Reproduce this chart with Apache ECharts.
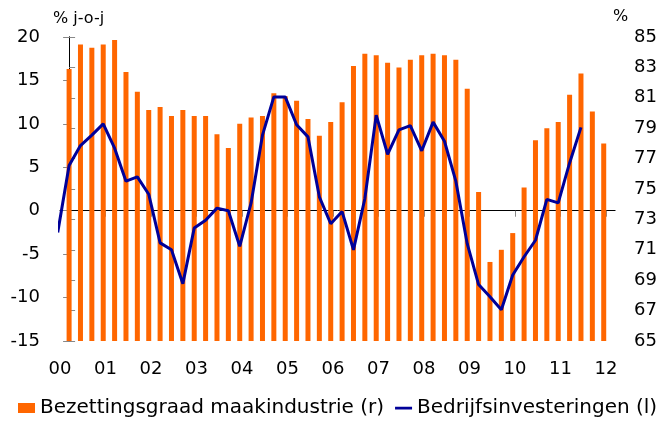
<!DOCTYPE html>
<html>
<head>
<meta charset="utf-8">
<script src="https://cdn.jsdelivr.net/npm/echarts@6/dist/echarts.min.js"></script>
<style>
  html, body { margin: 0; padding: 0; background: #fff; }
  #chart { width: 660px; height: 423px; }
</style>
</head>
<body>
<div id="chart"></div>
<script>
// kwartalen, eerste is 99K4 (alleen voor het begin van de lijn)
const quarters = [
  '99K4',
  '00K1', '00K2', '00K3', '00K4', '01K1', '01K2', '01K3', '01K4',
  '02K1', '02K2', '02K3', '02K4', '03K1', '03K2', '03K3', '03K4',
  '04K1', '04K2', '04K3', '04K4', '05K1', '05K2', '05K3', '05K4',
  '06K1', '06K2', '06K3', '06K4', '07K1', '07K2', '07K3', '07K4',
  '08K1', '08K2', '08K3', '08K4', '09K1', '09K2', '09K3', '09K4',
  '10K1', '10K2', '10K3', '10K4', '11K1', '11K2', '11K3', '11K4',
];
const yearLabels = ['00', '01', '02', '03', '04', '05', '06', '07', '08', '09', '10', '11', '12'];

// Bezettingsgraad maakindustrie (r), 00K1 .. 11K4
const capacity = [
  82.9, 84.5, 84.3, 84.5, 84.8, 82.7, 81.4, 80.2, 80.4, 79.8,
  80.2, 79.8, 79.8, 78.6, 77.7, 79.3, 79.7, 79.8, 81.3, 81.1,
  80.8, 79.6, 78.5, 79.4, 80.7, 83.1, 83.9, 83.8, 83.3, 83.0,
  83.5, 83.8, 83.9, 83.8, 83.5, 81.6, 74.8, 70.2, 71.0, 72.1,
  75.1, 78.2, 79.0, 79.4, 81.2, 82.6, 80.1, 78.0,
];

// Bedrijfsinvesteringen (l), 99K4 .. 11K2
const investment = [
  -2.5, 5.2, 7.5, 8.7, 10.0, 7.2, 3.4, 3.9, 1.9, -3.7,
  -4.5, -8.4, -2.0, -1.1, 0.3, 0.0, -4.1, 0.9, 8.7, 13.1,
  13.1, 9.9, 8.5, 1.6, -1.5, -0.1, -4.5, 1.4, 11.0, 6.5,
  9.3, 9.8, 6.9, 10.2, 8.0, 3.4, -3.8, -8.5, -9.9, -11.4,
  -7.4, -5.3, -3.4, 1.3, 0.9, 5.5, 9.6,
];

const FONT = 'DejaVu Sans';
const X_MIN = -0.8;
const X_MAX = 48;
const yearTicks = yearLabels.map((_, i) => X_MIN + i * 4);

// x = positie van het kwartaal, 00K1 = 0
const barData = capacity.map((v, i) => [quarters.indexOf(quarters[i + 1]) - 1, v]);
const lineData = investment.map((v, i) => [quarters.indexOf(quarters[i]) - 1, v]);

// streepje als legendasymbool (de onzichtbare puntjes houden de hoogte vast)
const dashIcon = 'path://M0,0L0.01,0L0,0.01Z M0,3.8L17,3.8L17,6.4L0,6.4Z M0,10L0.01,10L0,9.99Z';

const chart = echarts.init(document.getElementById('chart'), null, { renderer: 'canvas' });

chart.setOption({
  animation: false,
  backgroundColor: '#fff',
  textStyle: { fontFamily: FONT },
  title: [
    { text: '% j-o-j', left: 48, top: 6, textStyle: { fontFamily: FONT, fontSize: 16, fontWeight: 'normal', color: '#000' } },
    { text: '%', left: 608, top: 4, textStyle: { fontFamily: FONT, fontSize: 16, fontWeight: 'normal', color: '#000' } },
  ],
  grid: { left: 60, right: 42, top: 37, height: 304 },
  legend: {
    left: 18,
    top: 398,
    width: 700,
    padding: 0,
    itemWidth: 17,
    itemHeight: 10,
    itemGap: 11,
    textStyle: { fontFamily: FONT, fontSize: 20, color: '#000' },
    data: [
      { name: 'Bezettingsgraad maakindustrie (r)', icon: 'rect' },
      { name: 'Bedrijfsinvesteringen (l)', icon: dashIcon, itemStyle: { color: '#000099' } },
    ],
  },
  xAxis: [
    {
      type: 'value',
      min: X_MIN,
      max: X_MAX,
      position: 'bottom',
      axisLine: { show: true, onZero: true, lineStyle: { color: '#000', width: 1 } },
      axisTick: { show: true, customValues: yearTicks, length: 6, lineStyle: { color: '#888' } },
      axisLabel: { show: false },
      splitLine: { show: false },
    },
    {
      type: 'value',
      min: X_MIN,
      max: X_MAX,
      position: 'bottom',
      axisLine: { show: false, onZero: false },
      axisTick: { show: false },
      axisLabel: {
        customValues: yearTicks,
        formatter: (v) => yearLabels[Math.round((v - X_MIN) / 4)],
        margin: 19,
        fontFamily: FONT,
        fontSize: 18,
        color: '#000',
      },
      splitLine: { show: false },
    },
  ],
  yAxis: [
    {
      type: 'value',
      min: -15,
      max: 20,
      interval: 5,
      position: 'left',
      axisLine: { show: true, lineStyle: { color: '#000' } },
      axisTick: { show: true, length: 6, lineStyle: { color: '#888' } },
      axisLabel: { margin: 20, fontFamily: FONT, fontSize: 18, color: '#000' },
      splitLine: { show: false },
    },
    {
      type: 'value',
      min: 65,
      max: 85,
      interval: 2,
      position: 'right',
      axisLine: { show: true, lineStyle: { color: '#000' } },
      axisTick: { show: true, length: 6, lineStyle: { color: '#888' } },
      axisLabel: { margin: 19, fontFamily: FONT, fontSize: 18, color: '#000' },
      splitLine: { show: false },
    },
  ],
  series: [
    {
      name: 'Bezettingsgraad maakindustrie (r)',
      type: 'bar',
      xAxisIndex: 0,
      yAxisIndex: 1,
      barWidth: 5,
      itemStyle: { color: '#ff6600' },
      data: barData,
    },
    {
      name: 'Bedrijfsinvesteringen (l)',
      type: 'line',
      xAxisIndex: 0,
      yAxisIndex: 0,
      showSymbol: false,
      symbol: 'none',
      clip: true,
      lineStyle: { color: '#000099', width: 3 },
      itemStyle: { color: '#000099' },
      data: lineData,
      z: 3,
    },
  ],
});
</script>
</body>
</html>
